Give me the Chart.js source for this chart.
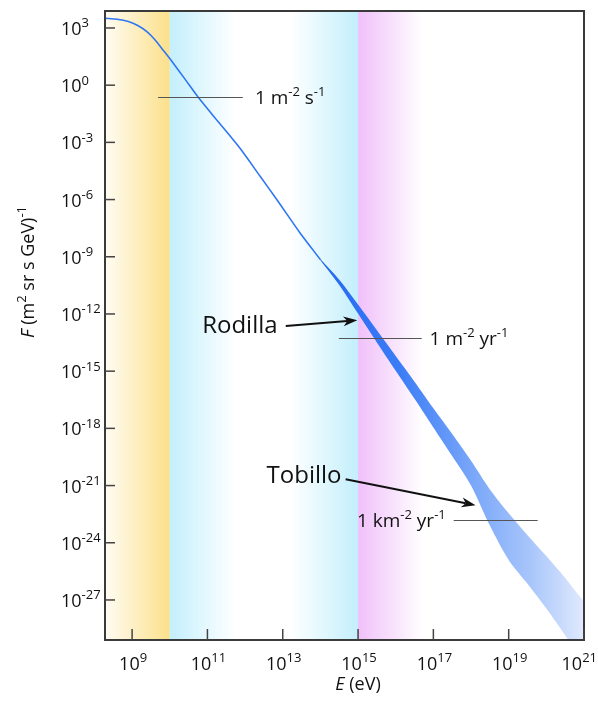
<!DOCTYPE html>
<html>
<head>
<meta charset="utf-8">
<script src="https://cdn.jsdelivr.net/npm/chart.js@4.4.1/dist/chart.umd.min.js"></script>
<style>
  html, body { margin: 0; padding: 0; background: #fff; }
</style>
</head>
<body>
<canvas id="chart-canvas" width="598" height="711"></canvas>
<script>
// everything is kept as log10 exponents: energy in eV, flux in (m^2 sr s GeV)^-1
const xRangeExp = [8.28, 21];
const yRangeExp = [-29.1, 3.89];
const xTickExp = [9, 11, 13, 15, 17, 19, 21];
const yTickExp = [3, 0, -3, -6, -9, -12, -15, -18, -21, -24, -27];

// low energy part, drawn as a thin line
const lineLogE = [8.28, 8.6, 8.9, 9.15, 9.4, 9.6, 9.82, 10.03, 10.4, 10.75, 11.3, 11.86, 12.4, 12.85, 13.46, 14.0];
const lineLogF = [3.51, 3.46, 3.34, 3.13, 2.8, 2.4, 1.85, 1.32, 0.33, -0.62, -1.95, -3.3, -4.78, -6.02, -7.75, -9.15];

// high energy part, drawn as a widening band
const bandLogE = [13.8, 14.0, 14.5, 15.0, 15.5, 16.0, 16.5, 17.0, 17.5, 18.0, 18.5, 19.0, 19.5, 20.0, 20.5, 21.0, 21.3];
const bandUpperLogF = [-8.64, -9.12, -10.2, -11.5, -12.85, -14.2, -15.55, -16.95, -18.3, -19.7, -21.2, -22.45, -23.6, -24.7, -25.85, -27.1, -27.8];
const bandLowerLogF = [-8.64, -9.18, -10.48, -11.98, -13.5, -14.98, -16.45, -17.95, -19.45, -21.0, -23.1, -24.9, -26.15, -27.45, -28.85, -30.3, -31.1];

// shaded energy ranges
const shadeFromExp = [8.28, 10.0, 13.2, 15.0];
const shadeToExp = [10.0, 11.75, 15.0, 16.72];

// rate markers: flux level, line span, text start
const rateLogF = [-0.62, -13.26, -22.8];
const rateLineFrom = [9.69, 14.49, 17.54];
const rateLineTo = [11.94, 16.69, 19.77];
const rateTextAt = [12.26, 16.9, 14.97];
const rateText = [
  [["1 m", ""], ["-2", "sup"], [" s", ""], ["-1", "sup"]],
  [["1 m", ""], ["-2", "sup"], [" yr", ""], ["-1", "sup"]],
  [["1 km", ""], ["-2", "sup"], [" yr", ""], ["-1", "sup"]],
];

// named features with arrows: text position, arrow start, arrow tip
const featureNames = ["Rodilla", "Tobillo"];
const featureTextAt = [[10.86, -12.99], [12.57, -20.86]];
const featureArrowFrom = [[13.08, -12.63], [14.67, -20.67]];
const featureArrowTo = [[14.98, -12.33], [18.12, -22.03]];

const FONT = '"Open Sans", Lato, sans-serif';
const shadeColors = [
  ["#fffcf3", "#fbe08a"],
  ["#c3effc", "#ffffff"],
  ["#ffffff", "#c3effc"],
  ["#f0c0fa", "#ffffff"],
];

const pts = (es, fs) => es.map((e, i) => ({ x: 10 ** e, y: 10 ** fs[i] }));

function fontFor(kind, size) {
  if (kind === "sup") return Math.round(size * 0.7) + "px " + FONT;
  return (kind === "it" ? "italic " : "") + size + "px " + FONT;
}

// measures text made of normal / superscript / italic pieces
function richWidth(ctx, parts, size) {
  let w = 0;
  parts.forEach(([t, kind]) => {
    ctx.font = fontFor(kind, size);
    w += ctx.measureText(t).width;
  });
  return w;
}

function richText(ctx, parts, x, y, size, align) {
  const w = richWidth(ctx, parts, size);
  let cx = align === "center" ? x - w / 2 : x;
  ctx.textAlign = "left";
  ctx.textBaseline = "alphabetic";
  parts.forEach(([t, kind]) => {
    ctx.font = fontFor(kind, size);
    ctx.fillText(t, cx, kind === "sup" ? y - size * 0.42 : y);
    cx += ctx.measureText(t).width;
  });
}

function arrow(ctx, x0, y0, x1, y1) {
  const a = Math.atan2(y1 - y0, x1 - x0);
  const len = 14, half = 5, notch = 10;
  ctx.beginPath();
  ctx.moveTo(x0, y0);
  ctx.lineTo(x1 - Math.cos(a) * notch, y1 - Math.sin(a) * notch);
  ctx.stroke();
  ctx.beginPath();
  ctx.moveTo(x1, y1);
  ctx.lineTo(x1 - Math.cos(a) * len - Math.sin(a) * half, y1 - Math.sin(a) * len + Math.cos(a) * half);
  ctx.lineTo(x1 - Math.cos(a) * notch, y1 - Math.sin(a) * notch);
  ctx.lineTo(x1 - Math.cos(a) * len + Math.sin(a) * half, y1 - Math.sin(a) * len - Math.cos(a) * half);
  ctx.closePath();
  ctx.fill();
}

const shading = {
  id: "shading",
  beforeDatasetsDraw(chart) {
    const { ctx, chartArea: area, scales: { x } } = chart;
    ctx.save();
    shadeFromExp.forEach((e0, i) => {
      const x0 = x.getPixelForValue(10 ** e0);
      const x1 = x.getPixelForValue(10 ** shadeToExp[i]);
      const g = ctx.createLinearGradient(x0, 0, x1, 0);
      g.addColorStop(0, shadeColors[i][0]);
      g.addColorStop(1, shadeColors[i][1]);
      ctx.fillStyle = g;
      ctx.fillRect(x0, area.top, x1 - x0, area.bottom - area.top);
    });
    ctx.restore();
  },
};

const axesAndNotes = {
  id: "axesAndNotes",
  afterDraw(chart) {
    const { ctx, chartArea: area, scales: { x, y } } = chart;
    const px = (e) => x.getPixelForValue(10 ** e);
    const py = (f) => y.getPixelForValue(10 ** f);
    ctx.save();

    // rate marker lines and their labels
    ctx.strokeStyle = "#555";
    ctx.lineWidth = 1;
    ctx.fillStyle = "#111";
    rateLogF.forEach((f, i) => {
      const yy = Math.round(py(f)) + 0.5;
      ctx.beginPath();
      ctx.moveTo(px(rateLineFrom[i]), yy);
      ctx.lineTo(px(rateLineTo[i]), yy);
      ctx.stroke();
      richText(ctx, rateText[i], px(rateTextAt[i]), yy + 6, 19, "left");
    });

    // knee / ankle labels with arrows
    ctx.strokeStyle = "#111";
    ctx.lineWidth = 2;
    featureNames.forEach((name, i) => {
      ctx.font = "24px " + FONT;
      ctx.textAlign = "left";
      ctx.textBaseline = "alphabetic";
      ctx.fillText(name, px(featureTextAt[i][0]), py(featureTextAt[i][1]));
      arrow(ctx, px(featureArrowFrom[i][0]), py(featureArrowFrom[i][1]),
        px(featureArrowTo[i][0]), py(featureArrowTo[i][1]));
    });

    // frame
    ctx.strokeStyle = "#3a3a3a";
    ctx.lineWidth = 2;
    ctx.strokeRect(area.left, area.top, area.right - area.left, area.bottom - area.top);

    // inward ticks
    ctx.strokeStyle = "#444";
    ctx.lineWidth = 1.5;
    yTickExp.forEach((e) => {
      const yy = py(e);
      ctx.beginPath();
      ctx.moveTo(area.left, yy);
      ctx.lineTo(area.left + 10, yy);
      ctx.stroke();
    });
    xTickExp.forEach((e) => {
      const xx = px(e);
      ctx.beginPath();
      ctx.moveTo(xx, area.bottom);
      ctx.lineTo(xx, area.bottom - 11);
      ctx.stroke();
    });

    // tick labels
    ctx.fillStyle = "#111";
    yTickExp.forEach((e) => {
      richText(ctx, [["10", ""], [String(e), "sup"]], 61, py(e) + 7, 18, "left");
    });
    xTickExp.forEach((e) => {
      const parts = [["10", ""], [String(e), "sup"]];
      const w = richWidth(ctx, parts, 18);
      const cx = Math.min(px(e) + 1, chart.width - 1 - w / 2);
      richText(ctx, parts, cx, area.bottom + 30, 18, "center");
    });

    // axis titles
    richText(ctx, [["E", "it"], [" (eV)", ""]], 358, 690, 18, "center");
    ctx.translate(34, 272);
    ctx.rotate(-Math.PI / 2);
    richText(ctx, [["F", "it"], [" (m", ""], ["2", "sup"], [" sr s GeV)", ""], ["-1", "sup"]], 0, 0, 18, "center");
    ctx.restore();
  },
};

const ctx = document.getElementById("chart-canvas").getContext("2d");
const chart = new Chart(ctx, {
  type: "line",
  data: {
    datasets: [
      {
        label: "low energy",
        data: pts(lineLogE, lineLogF),
        borderColor: "#2f76f2",
        borderWidth: 1.6,
        tension: 0.25,
        pointRadius: 0,
        fill: false,
      },
      {
        label: "band upper",
        data: pts(bandLogE, bandUpperLogF),
        borderWidth: 0,
        borderColor: "rgba(0,0,0,0)",
        pointRadius: 0,
        tension: 0.3,
        fill: false,
      },
      {
        label: "band lower",
        data: pts(bandLogE, bandLowerLogF),
        borderWidth: 0,
        borderColor: "rgba(0,0,0,0)",
        pointRadius: 0,
        tension: 0.3,
        fill: "-1",
        backgroundColor: (context) => {
          const { ctx: c, chartArea, scales } = context.chart;
          if (!chartArea) return "rgba(0,0,0,0)";
          const g = c.createLinearGradient(scales.x.getPixelForValue(1e14), 0, scales.x.getPixelForValue(1e21), 0);
          g.addColorStop(0, "#2468f0");
          g.addColorStop(0.3, "#3b7cf6");
          g.addColorStop(0.6, "#7eaaf9");
          g.addColorStop(0.8, "#a9c6fb");
          g.addColorStop(1, "#e0eafd");
          return g;
        },
      },
    ],
  },
  options: {
    responsive: false,
    animation: false,
    devicePixelRatio: 1,
    events: [],
    layout: { padding: { left: 105, right: 14, top: 11, bottom: 71 } },
    plugins: { legend: { display: false }, tooltip: { enabled: false } },
    scales: {
      x: { type: "logarithmic", min: 10 ** xRangeExp[0], max: 10 ** xRangeExp[1], display: false },
      y: { type: "logarithmic", min: 10 ** yRangeExp[0], max: 10 ** yRangeExp[1], display: false },
    },
  },
  plugins: [shading, axesAndNotes],
});
</script>
</body>
</html>
